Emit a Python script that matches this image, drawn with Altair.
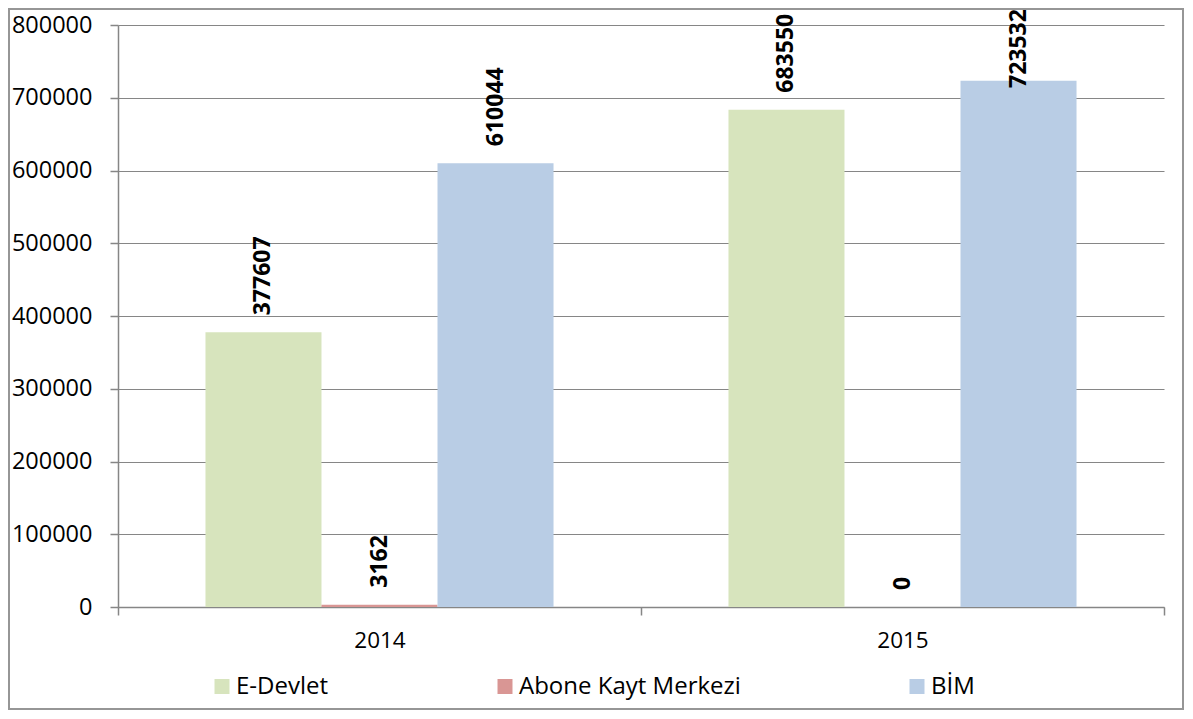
import altair as alt
import pandas as pd

years = ["2014", "2015"]
series = ["E-Devlet", "Abone Kayt Merkezi", "BİM"]
values_2014 = [377607, 3162, 610044]
values_2015 = [683550, 0, 723532]
colors = ["#D7E4BD", "#D99694", "#B9CDE5"]
y_ticks = [0, 100000, 200000, 300000, 400000, 500000, 600000, 700000, 800000]

rows = []
for yr, vals in zip(years, [values_2014, values_2015]):
    for s, v in zip(series, vals):
        rows.append({"year": yr, "series": s, "value": v})
df = pd.DataFrame(rows)

FONT = "Open Sans"
W, H = 1046, 582

x_enc = alt.X("year:N", title=None, sort=years,
              scale=alt.Scale(paddingInner=0, paddingOuter=0),
              axis=alt.Axis(labelAngle=0, labelFontSize=22.5, labelColor="#000000",
                            labelFont=FONT, tickBand="extent", tickSize=8,
                            tickColor="#868686", domainColor="#868686",
                            tickWidth=1.5, domainWidth=1.5,
                            labelPadding=14, grid=False))
xoff = alt.XOffset("series:N", sort=series,
                   scale=alt.Scale(paddingOuter=0.754, paddingInner=0))
y_scale = alt.Scale(domain=[0, 800000], nice=False)

bars = alt.Chart(df).mark_bar().encode(
    x=x_enc,
    xOffset=xoff,
    y=alt.Y("value:Q", title=None, scale=y_scale,
            axis=alt.Axis(values=y_ticks, format="d", labelFontSize=23.5,
                          labelColor="#000000", labelFont=FONT, tickSize=8,
                          tickColor="#868686", domainColor="#868686",
                          tickWidth=1.5, domainWidth=1.5, gridWidth=1.2,
                          gridColor="#868686", labelPadding=18)),
    color=alt.Color("series:N", sort=series,
                    scale=alt.Scale(domain=series, range=colors),
                    legend=alt.Legend(title=None, orient="none", direction="horizontal",
                                      legendX=92, legendY=649.5, symbolType="square",
                                      symbolSize=225, symbolStrokeWidth=0,
                                      labelFontSize=24, labelFont=FONT, labelLimit=400,
                                      labelColor="#000000", columnPadding=164,
                                      padding=0, labelOffset=2)),
)

labels = alt.Chart(df).transform_calculate(
    lab="min(datum.value, 690000)"
).mark_text(angle=270, align="left", baseline="middle", dx=17,
            fontSize=23, fontWeight="bold", font=FONT, color="#000000").encode(
    x=alt.X("year:N", sort=years),
    xOffset=xoff,
    y=alt.Y("lab:Q", scale=y_scale),
    text=alt.Text("value:Q", format="d"),
)

frame = alt.Chart(df).mark_rect(fill=None, stroke="#969696", strokeWidth=2).encode(
    x=alt.value(-109), x2=alt.value(1065), y=alt.value(-16), y2=alt.value(684)
)

chart = alt.layer(bars, labels, frame).properties(
    width=W, height=H,
    autosize=alt.AutoSizeParams(type="none"),
    padding={"left": 110, "top": 17, "right": 20, "bottom": 103},
).configure_view(stroke=None).configure_axis(labelFont=FONT)

chart.save("out.html", embed_options={"renderer": "svg", "actions": False})
